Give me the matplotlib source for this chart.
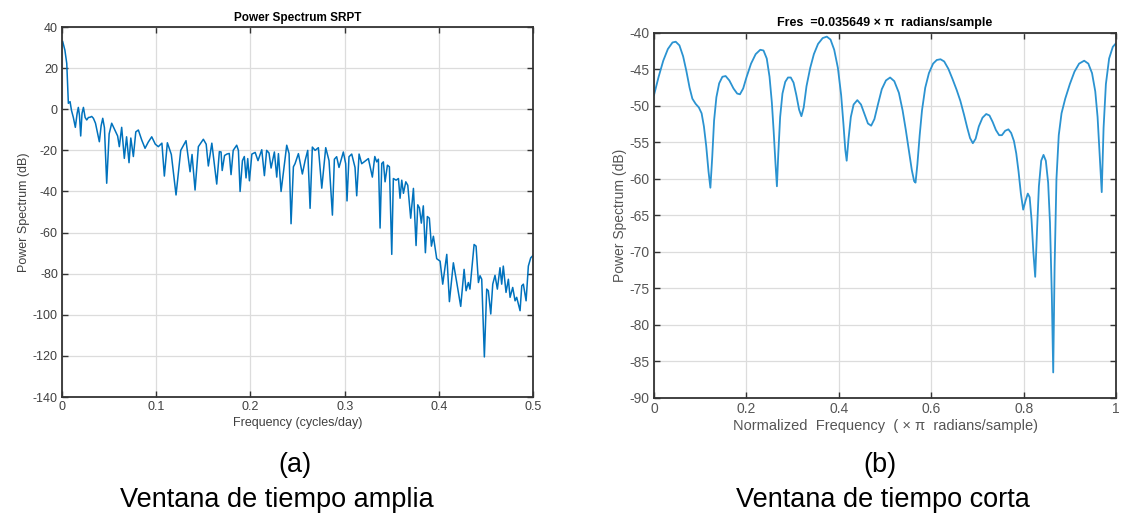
import numpy as np
import matplotlib.pyplot as plt

# left panel: long window spectrum (cycles/day, dB)
freq_a = [0.0007, 0.003, 0.005, 0.0067, 0.0085, 0.010, 0.012, 0.0141, 0.016, 0.0173,
          0.0185, 0.0198, 0.0212, 0.0227, 0.0245, 0.0262, 0.028, 0.0297, 0.0315, 0.0333,
          0.0355, 0.0396, 0.0415, 0.0432, 0.045, 0.0474, 0.050, 0.0527, 0.056, 0.059,
          0.0608, 0.0633, 0.0661, 0.0685, 0.0711, 0.073, 0.0757, 0.0783, 0.081, 0.0846,
          0.0881, 0.0915, 0.0952, 0.099, 0.1022, 0.106, 0.1086, 0.1118, 0.116, 0.121,
          0.126, 0.1316, 0.1359, 0.138, 0.1412, 0.1447, 0.150, 0.153, 0.1553, 0.159,
          0.1642, 0.167, 0.1688, 0.170, 0.1725, 0.175, 0.1775, 0.1794, 0.1817, 0.1854,
          0.1872, 0.189, 0.1915, 0.1935, 0.1953, 0.1971, 0.1989, 0.2015, 0.205, 0.208,
          0.212, 0.2148, 0.2172, 0.2197, 0.2219, 0.2254, 0.2279, 0.2297, 0.2325, 0.2385,
          0.241, 0.2431, 0.2456, 0.2473, 0.2509, 0.2551, 0.258, 0.2608, 0.2633, 0.2657,
          0.2686, 0.2721, 0.2757, 0.2799, 0.2834, 0.287, 0.2891, 0.2915, 0.294, 0.2986,
          0.3011, 0.3025, 0.3046, 0.3075, 0.311, 0.3128, 0.3153, 0.3181, 0.3252, 0.3294,
          0.332, 0.334, 0.3358, 0.3376, 0.3394, 0.3411, 0.3429, 0.3454, 0.3475, 0.350,
          0.3517, 0.3546, 0.3571, 0.3588, 0.3606, 0.3624, 0.3649, 0.367, 0.3701, 0.373,
          0.3758, 0.3776, 0.3794, 0.3814, 0.3835, 0.3857, 0.3878, 0.3899, 0.3921, 0.3942,
          0.3977, 0.4013, 0.4041, 0.4084, 0.4112, 0.4154, 0.419, 0.4232, 0.4268, 0.4289,
          0.4313, 0.433, 0.4374, 0.4395, 0.442, 0.4437, 0.4455, 0.4483, 0.4508, 0.4525,
          0.4551, 0.4572, 0.4596, 0.4621, 0.4649, 0.4667, 0.4684, 0.4713, 0.4738, 0.4756,
          0.4784, 0.4809, 0.4826, 0.4862, 0.488, 0.4897, 0.4926, 0.495, 0.4975, 0.500]
power_a = [32.9, 28.8, 22.3, 2.9, 3.7, -0.5, -4, -8.8, -2, 0.9,
           -3, -13, -2, 0.9, -4, -5.2, -4, -3.9, -3.5, -4.4,
           -6.8, -15.8, -8, -4.4, -9, -36, -12, -6.8, -10, -13,
           -18.2, -8.8, -23.9, -13.4, -26, -14, -23, -11, -10.1, -15,
           -19, -16, -13.4, -17, -18.2, -16.5, -32.5, -16.3, -22, -41.7,
           -20, -15.3, -30.4, -22, -39.3, -18.2, -14.6, -17, -27.6, -16.5,
           -36.4, -20.6, -20.8, -29.8, -22.5, -21.8, -21.5, -31.8, -20, -17.5,
           -20, -40, -25, -23, -33.4, -24, -34.8, -21.8, -21, -25,
           -19.7, -32.3, -20, -21.3, -28.6, -20.8, -33, -21.6, -40, -17.5,
           -21.6, -55.7, -28, -26.5, -21.6, -31.5, -25, -20, -48.2, -18.4,
           -20, -18.7, -38.4, -18.7, -25, -51.5, -24.3, -23.1, -28.3, -20.8,
           -26.5, -44.6, -23.1, -21.8, -28.3, -42.1, -21.8, -26.5, -24, -33,
           -23, -25.6, -24.3, -57.8, -26.4, -25.6, -35.3, -27.2, -28, -70.6,
           -33.7, -34.5, -33.7, -43.3, -34.5, -40.9, -35.3, -37, -53, -38.5,
           -66.3, -46.5, -48, -55.4, -47, -69.8, -52.2, -53, -66.6, -61.8,
           -72.7, -73.9, -85.1, -70.6, -93.6, -74.7, -84.3, -95.9, -77.9, -88.3,
           -84.3, -87.5, -65.8, -66.6, -84.3, -81, -82.7, -120.5, -87.5, -88.3,
           -99.6, -85.1, -80.8, -87.5, -77.1, -85.1, -76.3, -89.1, -82.7, -91.5,
           -86.7, -93.2, -91.5, -98, -85.9, -85.1, -93.2, -76.3, -72.3, -71.1]

# right panel: short window spectrum (normalized frequency, dB)
freq_b = [0.000, 0.010, 0.020, 0.030, 0.040, 0.047, 0.055, 0.063, 0.070, 0.077,
          0.083, 0.090, 0.097, 0.103, 0.108, 0.113, 0.118, 0.122, 0.126, 0.130,
          0.135, 0.141, 0.148, 0.155, 0.163, 0.172, 0.180, 0.186, 0.193, 0.200,
          0.210, 0.220, 0.230, 0.237, 0.244, 0.250, 0.255, 0.259, 0.263, 0.266,
          0.269, 0.273, 0.278, 0.284, 0.290, 0.296, 0.302, 0.308, 0.314, 0.319,
          0.324, 0.330, 0.338, 0.346, 0.355, 0.365, 0.374, 0.382, 0.390, 0.398,
          0.405, 0.410, 0.414, 0.417, 0.421, 0.426, 0.432, 0.440, 0.448, 0.456,
          0.463, 0.470, 0.477, 0.485, 0.493, 0.502, 0.511, 0.520, 0.530, 0.538,
          0.545, 0.552, 0.558, 0.563, 0.566, 0.570, 0.575, 0.580, 0.587, 0.595,
          0.604, 0.612, 0.620, 0.628, 0.637, 0.646, 0.655, 0.663, 0.671, 0.678,
          0.684, 0.690, 0.696, 0.703, 0.711, 0.719, 0.726, 0.733, 0.740, 0.747,
          0.753, 0.760, 0.767, 0.773, 0.779, 0.784, 0.789, 0.794, 0.799, 0.804,
          0.809, 0.813, 0.817, 0.821, 0.825, 0.829, 0.833, 0.838, 0.843, 0.848,
          0.853, 0.857, 0.861, 0.864, 0.867, 0.871, 0.876, 0.882, 0.890, 0.900,
          0.910, 0.920, 0.931, 0.940, 0.948, 0.955, 0.960, 0.964, 0.969, 0.973,
          0.978, 0.985, 0.993, 1.000]
power_b = [-48.5, -46.0, -43.8, -42.2, -41.3, -41.2, -41.7, -43.2, -45.2, -47.5,
           -49.0, -49.7, -50.2, -51.0, -52.8, -55.5, -59.0, -61.2, -57.0, -52.0,
           -48.8, -46.9, -46.0, -45.9, -46.5, -47.6, -48.3, -48.4, -47.6, -46.1,
           -44.2, -42.9, -42.3, -42.4, -43.5, -46.0, -49.5, -53.5, -58.0, -61.0,
           -56.5, -51.5, -48.3, -46.7, -46.1, -46.1, -46.8, -48.5, -50.5, -51.4,
           -50.2, -47.3, -44.8, -42.9, -41.5, -40.7, -40.5, -40.9, -42.3, -44.8,
           -48.5, -52.5, -56.0, -57.5, -54.5, -51.5, -49.8, -49.2, -49.8, -51.2,
           -52.4, -52.7, -51.8, -49.7, -47.7, -46.5, -46.1, -46.6, -48.2, -50.6,
           -53.3, -56.3, -58.8, -60.3, -60.5, -58.0, -54.0, -50.6, -47.5, -45.5,
           -44.2, -43.7, -43.6, -43.9, -44.9, -46.3, -47.8, -49.3, -51.2, -53.0,
           -54.4, -55.1, -54.5, -52.8, -51.6, -51.1, -51.3, -52.2, -53.3, -54.0,
           -54.0, -53.4, -53.2, -53.7, -54.8, -56.5, -59.0, -62.0, -64.2, -63.0,
           -62.0, -62.5, -65.5, -70.0, -73.4, -67.0, -61.0, -57.5, -56.7, -57.5,
           -60.5, -66.0, -76.0, -86.5, -72.0, -60.0, -54.0, -51.0, -49.0, -47.0,
           -45.3, -44.2, -43.8, -44.2, -45.5, -48.0, -51.5, -56.0, -61.8, -53.0,
           -47.0, -43.5, -41.9, -41.4]

ticks_a_x = [0, 0.1, 0.2, 0.3, 0.4, 0.5]
ticks_a_y = [40, 20, 0, -20, -40, -60, -80, -100, -120, -140]
ticks_b_x = [0, 0.2, 0.4, 0.6, 0.8, 1]
ticks_b_y = [-40, -45, -50, -55, -60, -65, -70, -75, -80, -85, -90]

plt.rcParams['font.family'] = ['Liberation Sans', 'DejaVu Sans']
plt.rcParams['axes.unicode_minus'] = False

fig = plt.figure(figsize=(11.22, 5.16), dpi=100)
ax1 = fig.add_axes([0.0553, 0.2306, 0.4198, 0.717])
ax2 = fig.add_axes([0.5829, 0.2287, 0.4118, 0.7074])


def matlab_style(ax, col):
    ax.grid(True, color='#dcdcdc', linewidth=0.9)
    ax.set_axisbelow(True)
    for s in ax.spines.values():
        s.set_color('#333333')
        s.set_linewidth(1.3)
    ax.tick_params(direction='in', top=True, right=True, length=4, width=1.0,
                   colors='#333333', labelcolor=col, labelsize=8.5, pad=3)


ax1.plot(freq_a, power_a, color='#0072BD', linewidth=1.1)
ax1.set_xlim(0, 0.5)
ax1.set_ylim(-140, 40)
ax1.set_xticks(ticks_a_x)
ax1.set_xticklabels(['0', '0.1', '0.2', '0.3', '0.4', '0.5'])
ax1.set_yticks(ticks_a_y)
matlab_style(ax1, '#404040')
ax1.tick_params(labelsize=9)
ax1.set_title('Power Spectrum SRPT', fontsize=8.5, fontweight='bold', pad=4)
ax1.set_xlabel('Frequency (cycles/day)', fontsize=9, color='#404040', labelpad=3)
ax1.set_ylabel('Power Spectrum (dB)', fontsize=9, color='#404040', labelpad=2)

ax2.plot(freq_b, power_b, color='#2b93d1', linewidth=1.3)
ax2.set_xlim(0, 1)
ax2.set_ylim(-90, -40)
ax2.set_xticks(ticks_b_x)
ax2.set_xticklabels(['0', '0.2', '0.4', '0.6', '0.8', '1'])
ax2.set_yticks(ticks_b_y)
matlab_style(ax2, '#555555')
ax2.tick_params(labelsize=10)
ax2.set_title('Fres  =0.035649 \u00d7 \u03c0  radians/sample', fontsize=9,
              fontweight='bold', pad=5)
ax2.set_xlabel('Normalized  Frequency  ( \u00d7 \u03c0  radians/sample)', fontsize=10.5,
               color='#555555', labelpad=2)
ax2.set_ylabel('Power Spectrum (dB)', fontsize=10, color='#555555', labelpad=2)

fig.text(0.263, 0.098, '(a)', ha='center', va='center', fontsize=19.5)
fig.text(0.247, 0.031, 'Ventana de tiempo amplia', ha='center', va='center', fontsize=19.5)
fig.text(0.784, 0.098, '(b)', ha='center', va='center', fontsize=19.5)
fig.text(0.787, 0.031, 'Ventana de tiempo corta', ha='center', va='center', fontsize=19.5)

fig.savefig('out.png', dpi=100)
